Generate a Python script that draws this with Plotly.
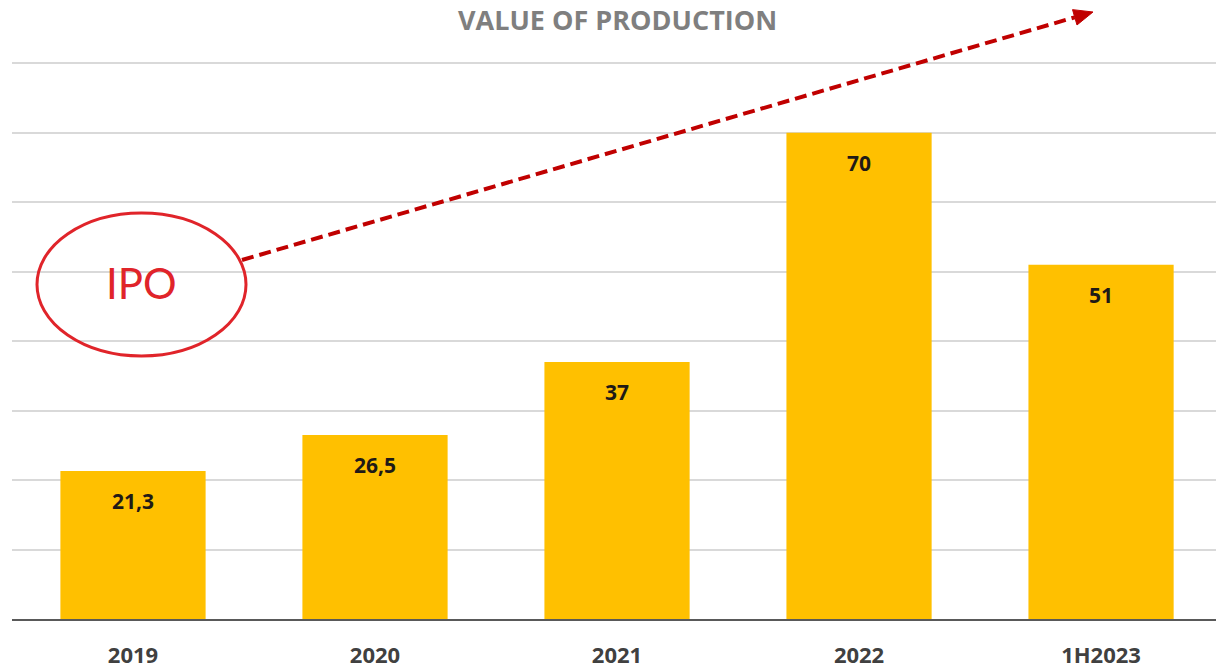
import plotly.graph_objects as go

# Value of production by period
periods = ["2019", "2020", "2021", "2022", "1H2023"]
values = [21.3, 26.5, 37, 70, 51]
value_labels = ["21,3", "26,5", "37", "70", "51"]

W, H = 1216, 671
ML, MR, MT, MB = 12, 0, 57, 52
PW, PH = W - ML - MR, H - MT - MB


def px_to_paper(px, py):
    return (px - ML) / PW, (H - MB - py) / PH


fig = go.Figure()
fig.add_trace(go.Bar(
    x=periods,
    y=values,
    marker=dict(color="#ffc000", line=dict(width=0)),
    width=0.6,
    hoverinfo="skip",
))

# value labels just under the top of each bar
for i, (v, lab) in enumerate(zip(values, value_labels)):
    fig.add_annotation(
        x=i, y=v, xref="x", yref="y", text=f"<b>{lab}</b>",
        showarrow=False, yanchor="middle", yshift=-30,
        font=dict(family="Open Sans", size=21, color="#1f1a17"),
    )

# title, kept fully inside the top edge
tx, ty = px_to_paper(617, 0)
fig.add_annotation(
    x=tx, y=ty, xref="paper", yref="paper", text="<b>VALUE OF PRODUCTION</b>",
    showarrow=False, xanchor="center", yanchor="top", borderpad=0,
    font=dict(family="Open Sans", size=27, color="#7f7f7f"),
)

# IPO ellipse
ex0, ey0 = px_to_paper(37, 356)
ex1, ey1 = px_to_paper(246, 213)
fig.add_shape(type="circle", xref="paper", yref="paper",
              x0=ex0, y0=ey0, x1=ex1, y1=ey1,
              line=dict(color="#e0242a", width=3))
ix, iy = px_to_paper(141, 283)
fig.add_annotation(
    x=ix, y=iy, xref="paper", yref="paper", text="IPO",
    showarrow=False, xanchor="center", yanchor="middle",
    font=dict(family="Lato", size=42, color="#e0242a"),
)

# dashed growth arrow
sx, sy = 242, 260
tipx, tipy = 1093, 12
dx, dy = tipx - sx, tipy - sy
L = (dx ** 2 + dy ** 2) ** 0.5
ux, uy = dx / L, dy / L
head_len, head_half = 19, 8
bx, by = tipx - ux * head_len, tipy - uy * head_len
x0p, y0p = px_to_paper(sx, sy)
x1p, y1p = px_to_paper(bx, by)
fig.add_shape(type="line", xref="paper", yref="paper",
              x0=x0p, y0=y0p, x1=x1p, y1=y1p,
              line=dict(color="#c00000", width=4, dash="12px,6px"))
pts = [(tipx, tipy),
       (bx - uy * head_half, by + ux * head_half),
       (bx + uy * head_half, by - ux * head_half)]
path = "M " + " L ".join(f"{px_to_paper(a, b)[0]:.5f},{px_to_paper(a, b)[1]:.5f}" for a, b in pts) + " Z"
fig.add_shape(type="path", xref="paper", yref="paper", path=path,
              fillcolor="#c00000", line=dict(color="#c00000", width=1))

fig.update_layout(
    width=W, height=H,
    margin=dict(l=ML, r=MR, t=MT, b=MB),
    paper_bgcolor="white", plot_bgcolor="white",
    showlegend=False,
    bargap=0.4,
    xaxis=dict(
        type="category",
        range=[-0.5, 4.475],
        showgrid=False, zeroline=False,
        showline=True, linecolor="#595959", linewidth=2,
        ticks="", ticklen=0, ticklabelstandoff=16,
        tickfont=dict(family="Open Sans", size=22, color="#404040"),
        tickprefix="<b>", ticksuffix="</b>",
    ),
    yaxis=dict(
        range=[0, 80.9], dtick=10,
        showgrid=True, gridcolor="#d9d9d9", gridwidth=1.5,
        zeroline=False, showticklabels=False, ticks="",
    ),
)

fig.write_html("out.html")
